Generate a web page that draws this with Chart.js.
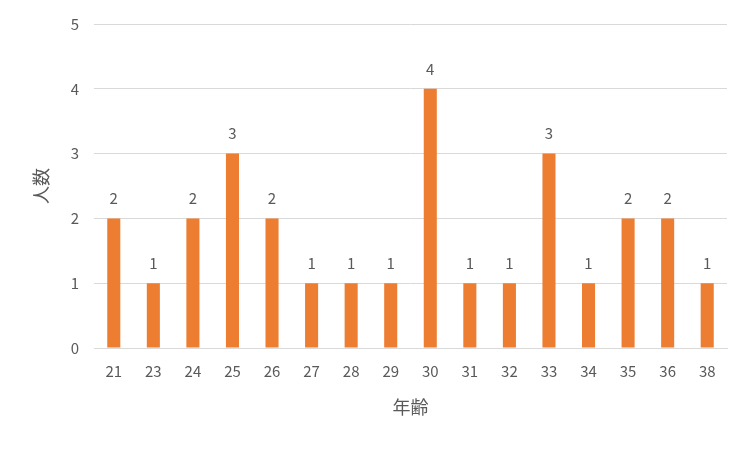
<!DOCTYPE html>
<html><head><meta charset="utf-8">
<script src="https://cdn.jsdelivr.net/npm/chart.js@4/dist/chart.umd.min.js"></script>
<style>html,body{margin:0;padding:0;background:#fff}#wrap{width:750px;height:450px}</style>
</head><body><div id="wrap"><canvas id="c"></canvas></div>
<script>
const categories = ['21','23','24','25','26','27','28','29','30','31','32','33','34','35','36','38'];
const counts = [2,1,2,3,2,1,1,1,4,1,1,3,1,2,2,1];
const yTicks = [0,1,2,3,4,5];
const xTitle = '年齢';
const yTitle = '人数';

const FONT = '"Noto Sans CJK JP", "Open Sans", sans-serif';
const TXT = '#595959';

const labelPlugin = {
  id: 'barLabels',
  afterDatasetsDraw(chart) {
    const ctx = chart.ctx;
    const meta = chart.getDatasetMeta(0);
    ctx.save();
    ctx.fillStyle = TXT;
    ctx.font = '15px ' + FONT;
    ctx.textAlign = 'center';
    ctx.textBaseline = 'middle';
    meta.data.forEach((el, i) => {
      ctx.fillText(String(counts[i]), el.x, el.y - 20);
    });
    ctx.restore();
  }
};

new Chart(document.getElementById('c'), {
  type: 'bar',
  data: {
    labels: categories,
    datasets: [{
      data: counts,
      backgroundColor: '#ED7D31',
      categoryPercentage: 1,
      barPercentage: 0.33
    }]
  },
  options: {
    responsive: true,
    maintainAspectRatio: false,
    animation: false,
    layout: { padding: { left: 30, right: 23, top: 16, bottom: 32 } },
    plugins: { legend: { display: false }, tooltip: { enabled: false } },
    scales: {
      x: {
        grid: { display: false, drawTicks: false },
        border: { color: '#d9d9d9', width: 1 },
        ticks: { color: TXT, font: { family: FONT, size: 15 }, padding: 14, maxRotation: 0 },
        title: { display: true, text: xTitle, color: TXT, font: { family: FONT, size: 18 }, padding: { top: 8, bottom: 0 } },
        afterFit(s) { s.height = 70; }
      },
      y: {
        min: 0, max: 5,
        afterBuildTicks(s) { s.ticks = yTicks.map(v => ({ value: v })); },
        grid: { color: '#d9d9d9', drawTicks: false },
        border: { display: false },
        ticks: { color: TXT, font: { family: FONT, size: 15 }, padding: 15 },
        title: { display: true, text: yTitle, color: TXT, font: { family: FONT, size: 18 }, padding: { top: 0, bottom: 0 } },
        afterFit(s) { s.width = 64; }
      }
    }
  },
  plugins: [labelPlugin]
});
</script>
</body></html>
